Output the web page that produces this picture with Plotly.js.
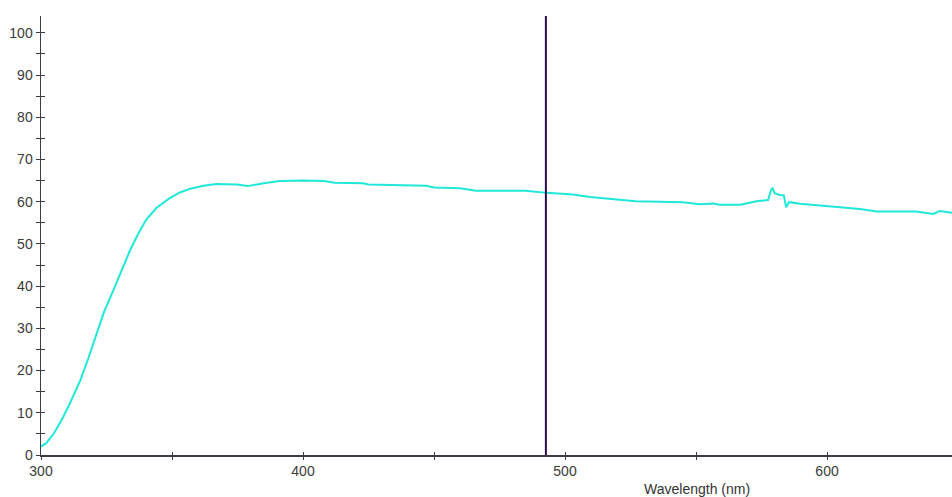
<!DOCTYPE html>
<html>
<head>
<meta charset="utf-8">
<script src="https://cdn.plot.ly/plotly-3.0.1.min.js"></script>
<style>html,body{margin:0;padding:0;background:#fff;}#chart{width:952px;height:497px;}</style>
</head>
<body>
<div id="chart"></div>
<script>
// Wavelength (nm)
const wavelength = [300, 302, 305, 308, 311, 315, 318, 321, 324, 327.6, 331, 334, 337, 340, 344, 349, 353, 357, 362, 367,
  374.7, 379, 385, 391, 400, 408, 412, 423, 425, 433, 447, 450, 460, 466, 485, 493, 503, 509.5, 520, 527,
  545, 551.5, 556.5, 559, 567, 573, 577.5, 578.5, 579.2, 580, 582, 583.5, 584.4, 585.5, 589.7, 597, 605,
  612.6, 619, 634, 640.5, 643, 647.7];
// Transmittance (%)
const transmittance = [2.0, 2.8, 5.2, 8.4, 12.2, 17.7, 22.8, 28.4, 33.8, 39.0, 44.0, 48.5, 52.3, 55.6, 58.5, 60.8, 62.2, 63.1, 63.8, 64.2,
  64.1, 63.7, 64.4, 64.9, 65.0, 64.9, 64.5, 64.4, 64.1, 64.0, 63.8, 63.4, 63.2, 62.6, 62.6, 62.1, 61.7, 61.1, 60.5, 60.1,
  59.9, 59.4, 59.6, 59.3, 59.3, 60.1, 60.4, 62.5, 63.3, 62.0, 61.6, 61.5, 58.7, 59.9, 59.5, 59.1, 58.7,
  58.3, 57.7, 57.7, 57.1, 57.8, 57.4];
// Cursor line
const cursorWavelength = [492.7, 492.7];
const cursorLevel = [0, 104];
// Axis settings
const xRange = [300, 647.7];
const yRange = [0, 104];
const xTitle = "Wavelength (nm)";

const axisColor = "#3c3c48";
const font = {family: "Liberation Sans, Arial, sans-serif", size: 14, color: "#3a3a3a"};

const traces = [
  {x: wavelength, y: transmittance, type: "scatter", mode: "lines",
   line: {color: "#1fe8d8", width: 2}, hoverinfo: "x+y", xaxis: "x", yaxis: "y"},
  {x: cursorWavelength, y: cursorLevel, type: "scatter", mode: "lines",
   line: {color: "#2a0c4e", width: 2}, hoverinfo: "skip", xaxis: "x2", yaxis: "y2"}
];

const layout = {
  width: 952, height: 497,
  margin: {l: 41, r: 0, t: 16, b: 42},
  paper_bgcolor: "#fff", plot_bgcolor: "#fff",
  showlegend: false,
  font: font,
  xaxis: {range: xRange, tick0: 300, dtick: 100, ticks: "outside", ticklen: 3, tickcolor: axisColor,
          showline: true, linecolor: axisColor, linewidth: 1.5, showgrid: false, zeroline: false,
          minor: {dtick: 50, ticks: "outside", ticklen: 3, tickcolor: axisColor},
          tickfont: font, fixedrange: true},
  yaxis: {range: yRange, tick0: 0, dtick: 10, ticks: "outside", ticklen: 4, tickcolor: axisColor,
          showline: true, linecolor: axisColor, linewidth: 1.5, showgrid: false, zeroline: false,
          minor: {dtick: 5, ticks: "outside", ticklen: 4, tickcolor: axisColor},
          tickfont: font, ticklabelstandoff: 0, fixedrange: true},
  xaxis2: {range: xRange, overlaying: "x", anchor: "y2", side: "bottom", tick0: 300, dtick: 100,
           ticks: "inside", ticklen: 3, tickcolor: axisColor, showticklabels: false,
           showline: false, showgrid: false, zeroline: false,
           minor: {dtick: 50, ticks: "inside", ticklen: 3, tickcolor: axisColor}, fixedrange: true},
  yaxis2: {range: yRange, overlaying: "y", anchor: "x2", side: "left", tick0: 0, dtick: 10,
           ticks: "inside", ticklen: 4, tickcolor: axisColor, showticklabels: false,
           showline: false, showgrid: false, zeroline: false,
           minor: {dtick: 5, ticks: "inside", ticklen: 4, tickcolor: axisColor}, fixedrange: true},
  annotations: [
    {text: xTitle, x: 550.4, xref: "x", y: 0, yref: "paper", yanchor: "top", yshift: -24,
     showarrow: false, font: {family: font.family, size: 14, color: "#333"}}
  ]
};

Plotly.newPlot("chart", traces, layout, {displayModeBar: false, staticPlot: true});
</script>
</body>
</html>
